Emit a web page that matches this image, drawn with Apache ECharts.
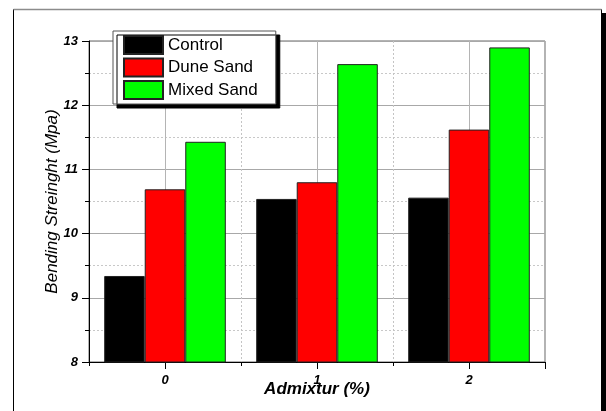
<!DOCTYPE html>
<html>
<head>
<meta charset="utf-8">
<script src="https://cdn.jsdelivr.net/npm/echarts@6/dist/echarts.min.js"></script>
<style>
html,body{margin:0;padding:0;background:#fff;}
#c{width:606px;height:411px;}
</style>
</head>
<body>
<div id="c"></div>
<script>
const categories = ['0', '1', '2'];
const seriesNames = ['Control', 'Dune Sand', 'Mixed Sand'];
const controlValues = [9.34, 10.54, 10.56];
const duneSandValues = [10.69, 10.80, 11.62];
const mixedSandValues = [11.43, 12.64, 12.90];
const yTicks = { min: 8, max: 13, step: 1 };
const xTitle = 'Admixtur (%)';
const yTitle = 'Bending Streinght (Mpa)';

const font = 'Liberation Sans, Arial, sans-serif';
const colors = ['#000000', '#ff0000', '#00ff00'];
const valueSets = [controlValues, duneSandValues, mixedSandValues];
const halfSlots = categories.flatMap(c => [c, c]);

const chart = echarts.init(document.getElementById('c'), null, {renderer: 'canvas'});
chart.setOption({
  animation: false,
  backgroundColor: '#ffffff',
  textStyle: {fontFamily: font},
  grid: {left: 89, right: 61, top: 41, bottom: 49, show: true, borderColor: '#666', borderWidth: 1, backgroundColor: 'transparent'},
  graphic: [
    {type: 'rect', z: 0, silent: true, shape: {x: 13.5, y: 9.5, width: 588, height: 430}, style: {fill: 'none', stroke: '#000', lineWidth: 1}},
    {type: 'line', z: 1, silent: true, shape: {x1: 13.5, y1: 9.5, x2: 601.5, y2: 9.5}, style: {stroke: '#8c8c8c', lineWidth: 1.5}},
    {type: 'rect', z: 1, silent: true, shape: {x: 602, y: 13, width: 4, height: 430}, style: {fill: '#000'}}
  ],
  legend: {
    show: true,
    orient: 'vertical',
    left: 113, top: 31,
    padding: [4, 18, 4, 10],
    itemGap: 2.5,
    itemWidth: 39, itemHeight: 18,
    icon: 'rect',
    backgroundColor: '#fff',
    borderColor: '#555', borderWidth: 1, borderRadius: 0,
    shadowColor: '#000', shadowBlur: 0, shadowOffsetX: 4, shadowOffsetY: 4,
    textStyle: {fontFamily: font, fontSize: 17, color: '#000', lineHeight: 18},
    data: seriesNames
  },
  xAxis: [
    {
      type: 'category', data: categories, boundaryGap: true,
      name: xTitle, nameLocation: 'middle', nameGap: 19, nameMoveOverlap: false,
      nameTextStyle: {fontFamily: font, fontSize: 17, fontWeight: 'bold', fontStyle: 'italic', color: '#000'},
      axisLine: {show: true, lineStyle: {color: '#000', width: 1}},
      axisTick: {show: true, alignWithLabel: false, length: 4, lineStyle: {color: '#000'}},
      axisLabel: {margin: 12, fontFamily: font, fontSize: 13, fontWeight: 'bold', fontStyle: 'italic', color: '#000'},
      splitLine: {show: true, lineStyle: {color: '#c4c4c4', type: [2, 2], width: 1}},
      z: 3
    },
    {
      type: 'category', data: halfSlots, boundaryGap: true, position: 'bottom',
      axisLine: {show: false},
      axisTick: {show: true, length: 7, interval: (i) => i % 2 === 1, lineStyle: {color: '#000'}},
      axisLabel: {show: false},
      splitLine: {show: true, interval: (i) => i % 2 === 1, lineStyle: {color: '#b4b4b4', width: 1}},
      z: 3
    }
  ],
  yAxis: {
    type: 'value', min: yTicks.min, max: yTicks.max, interval: yTicks.step,
    name: yTitle, nameLocation: 'middle', nameGap: 28, nameMoveOverlap: false,
    nameTextStyle: {fontFamily: font, fontSize: 17, fontWeight: 'normal', fontStyle: 'italic', color: '#000'},
    axisLine: {show: true, lineStyle: {color: '#000', width: 1}},
    axisTick: {show: true, inside: false, length: 7, lineStyle: {color: '#000'}},
    minorTick: {show: true, splitNumber: 2, length: 4, lineStyle: {color: '#000'}},
    axisLabel: {margin: 11, fontFamily: font, fontSize: 13, fontWeight: 'bold', fontStyle: 'italic', color: '#000'},
    splitLine: {show: true, lineStyle: {color: '#a8a8a8', width: 1}},
    minorSplitLine: {show: true, lineStyle: {color: '#c8c8c8', type: [2, 2], width: 1}},
    z: 3
  },
  series: seriesNames.map((name, i) => ({
    name: name,
    type: 'bar',
    xAxisIndex: 0,
    data: valueSets[i],
    barGap: '0%',
    barCategoryGap: '20%',
    z: 4,
    itemStyle: {color: colors[i], borderColor: '#222', borderWidth: 1}
  }))
});
</script>
</body>
</html>
